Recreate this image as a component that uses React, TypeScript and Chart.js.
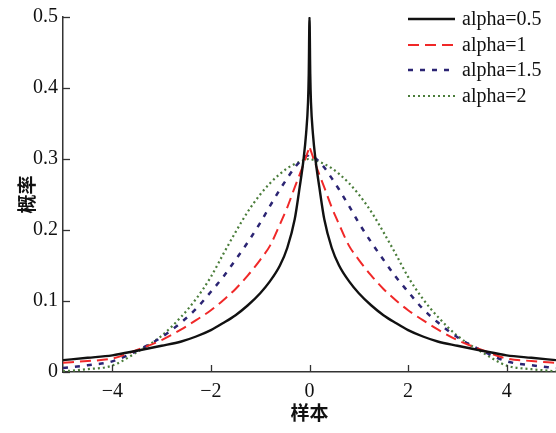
import { useEffect, useRef } from 'react';
import { Chart, registerables } from 'chart.js';

Chart.register(...registerables);

const samples = [
  -5, -4.5, -4, -3.5, -3, -2.6, -2.3, -2, -1.75, -1.5, -1.25, -1, -0.8, -0.6, -0.45, -0.3, -0.2, -0.12, -0.07, -0.03, -0.015,
  0,
  0.015, 0.03, 0.07, 0.12, 0.2, 0.3, 0.45, 0.6, 0.8, 1, 1.25, 1.5, 1.75, 2, 2.3, 2.6, 3, 3.5, 4, 4.5, 5,
];

const alpha05 = [
  0.0167, 0.02, 0.0235, 0.03, 0.037, 0.043, 0.05, 0.059, 0.069, 0.08, 0.094, 0.111, 0.128, 0.15, 0.175, 0.215, 0.26, 0.3, 0.335, 0.38, 0.42,
  0.5,
  0.42, 0.38, 0.335, 0.3, 0.26, 0.215, 0.175, 0.15, 0.128, 0.111, 0.094, 0.08, 0.069, 0.059, 0.05, 0.043, 0.037, 0.03, 0.0235, 0.02, 0.0167,
];

const alpha1 = [
  0.013, 0.0155, 0.019, 0.031, 0.045, 0.06, 0.073, 0.087, 0.101, 0.117, 0.136, 0.158, 0.178, 0.208, 0.232, 0.26, 0.278, 0.293, 0.303, 0.311, 0.314,
  0.318,
  0.314, 0.311, 0.303, 0.293, 0.278, 0.26, 0.232, 0.208, 0.178, 0.158, 0.136, 0.117, 0.101, 0.087, 0.073, 0.06, 0.045, 0.031, 0.019, 0.0155, 0.013,
];

const alpha15 = [
  0.0055, 0.0095, 0.015, 0.03, 0.049, 0.07, 0.089, 0.113, 0.134, 0.158, 0.183, 0.21, 0.234, 0.257, 0.273, 0.288, 0.296, 0.301, 0.304, 0.305, 0.306,
  0.306,
  0.306, 0.305, 0.304, 0.301, 0.296, 0.288, 0.273, 0.257, 0.234, 0.21, 0.183, 0.158, 0.134, 0.113, 0.089, 0.07, 0.049, 0.03, 0.015, 0.0095, 0.0055,
];

const alpha2 = [
  0.001, 0.004, 0.009, 0.028, 0.051, 0.078, 0.103, 0.134, 0.166, 0.197, 0.226, 0.25, 0.266, 0.279, 0.287, 0.293, 0.296, 0.298, 0.299, 0.3, 0.3,
  0.3,
  0.3, 0.3, 0.299, 0.298, 0.296, 0.293, 0.287, 0.279, 0.266, 0.25, 0.226, 0.197, 0.166, 0.134, 0.103, 0.078, 0.051, 0.028, 0.009, 0.004, 0.001,
];

const seriesLabels = ['alpha=0.5', 'alpha=1', 'alpha=1.5', 'alpha=2'];
const xTicks = [-4, -2, 0, 2, 4];
const yTicks = [0, 0.1, 0.2, 0.3, 0.4, 0.5];

export default function App() {
  const ref = useRef<HTMLCanvasElement>(null);

  useEffect(() => {
    if (!ref.current) return;
    const styles = [
      { color: '#111111', width: 2.4, dash: [] as number[] },
      { color: '#f02828', width: 2, dash: [11, 6] },
      { color: '#2b2473', width: 2.5, dash: [5, 7] },
      { color: '#4a7d3a', width: 2.2, dash: [2, 3] },
    ];
    const series = [alpha05, alpha1, alpha15, alpha2];
    const datasets = series.map((vals, i) => ({
      label: seriesLabels[i],
      data: samples.map((x, j) => ({ x, y: vals[j] })),
      borderColor: styles[i].color,
      borderWidth: styles[i].width,
      borderDash: styles[i].dash,
      pointRadius: 0,
      fill: false,
      cubicInterpolationMode: 'monotone' as const,
    }));

    const legendPlugin = {
      id: 'inLegend',
      afterDraw(chart: any) {
        const ctx = chart.ctx;
        const rows = [19, 45, 70, 96];
        ctx.save();
        ctx.font = '20px "Liberation Serif", serif';
        ctx.textBaseline = 'middle';
        ctx.textAlign = 'left';
        chart.data.datasets.forEach((ds: any, i: number) => {
          const y = rows[i];
          ctx.beginPath();
          ctx.setLineDash(ds.borderDash || []);
          ctx.strokeStyle = ds.borderColor;
          ctx.lineWidth = ds.borderWidth;
          ctx.moveTo(408, y);
          ctx.lineTo(455, y);
          ctx.stroke();
          ctx.setLineDash([]);
          ctx.fillStyle = '#111';
          ctx.fillText(ds.label, 462, y + 1);
        });
        ctx.restore();
      },
    };

    const tickPlugin = {
      id: 'inTicks',
      afterDraw(chart: any) {
        const ctx = chart.ctx;
        const xs = chart.scales.x;
        const ys = chart.scales.y;
        const { left, bottom } = chart.chartArea;
        const len = 7;
        ctx.save();
        ctx.strokeStyle = '#333';
        ctx.lineWidth = 1.3;
        ctx.setLineDash([]);
        xTicks.forEach((v) => {
          const px = Math.round(xs.getPixelForValue(v)) + 0.5;
          ctx.beginPath();
          ctx.moveTo(px, bottom);
          ctx.lineTo(px, bottom - len);
          ctx.stroke();
        });
        yTicks.forEach((v) => {
          const py = Math.round(ys.getPixelForValue(v)) + 0.5;
          ctx.beginPath();
          ctx.moveTo(left, py);
          ctx.lineTo(left + len, py);
          ctx.stroke();
        });
        ctx.restore();
      },
    };

    const tickFont = { family: '"Liberation Serif", serif', size: 20 };
    const titleFont = { family: '"Noto Sans CJK SC", sans-serif', size: 19, weight: 'bold' as const };

    const chart = new Chart(ref.current, {
      type: 'line',
      data: { datasets: datasets as any },
      options: {
        responsive: false,
        animation: false,
        layout: { padding: { top: 14, right: 0, left: 0, bottom: 0 } },
        plugins: { legend: { display: false }, tooltip: { enabled: false } },
        scales: {
          x: {
            type: 'linear',
            min: -5,
            max: 5,
            afterBuildTicks: (s: any) => {
              s.ticks = xTicks.map((v) => ({ value: v }));
            },
            afterFit: (s: any) => {
              s.height = 61;
            },
            grid: { display: false, drawTicks: false },
            border: { display: true, color: '#333', width: 1.5 },
            ticks: {
              padding: 8,
              color: '#111',
              font: tickFont,
              maxRotation: 0,
              autoSkip: false,
              callback: (v: any) => (Number(v) < 0 ? '\u2212' + Math.abs(Number(v)) : String(v)),
            },
            title: { display: true, text: '样本', color: '#111', font: titleFont, padding: { top: 0, bottom: 9 } },
          },
          y: {
            type: 'linear',
            min: 0,
            max: 0.5,
            afterBuildTicks: (s: any) => {
              s.ticks = yTicks.map((v) => ({ value: v }));
            },
            afterFit: (s: any) => {
              s.width = 63;
            },
            grid: { display: false, drawTicks: false },
            border: { display: true, color: '#333', width: 1.5 },
            ticks: {
              padding: 5,
              color: '#111',
              font: tickFont,
              autoSkip: false,
              callback: (v: any) => String(v),
            },
            title: { display: true, text: '概率', color: '#111', font: titleFont, padding: { top: 15, bottom: 0 } },
          },
        },
      },
      plugins: [legendPlugin, tickPlugin],
    });
    return () => chart.destroy();
  }, []);

  return (
    <div style={{ position: 'absolute', left: 0, top: 0, width: 556, height: 433 }}>
      <canvas ref={ref} width={556} height={433} style={{ display: 'block', width: 556, height: 433 }} />
    </div>
  );
}
